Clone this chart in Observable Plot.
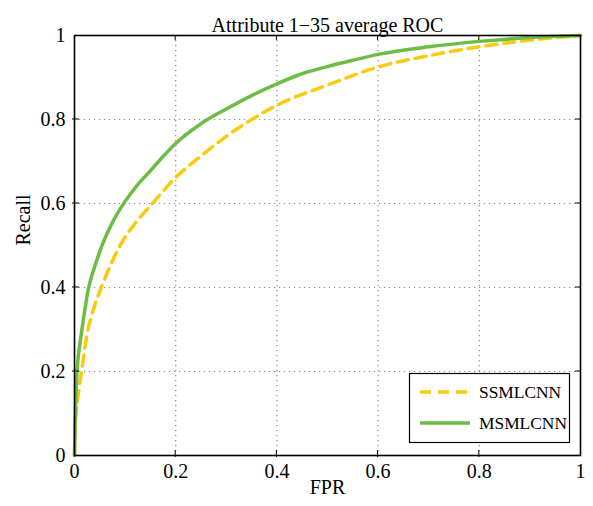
<!DOCTYPE html>
<html>
<head>
<meta charset="utf-8">
<script src="https://cdn.jsdelivr.net/npm/d3@7"></script>
<script src="https://cdn.jsdelivr.net/npm/@observablehq/plot@0.6"></script>
<style>
  html, body { margin: 0; padding: 0; background: #ffffff; }
  #chart svg { display: block; }
</style>
</head>
<body>
<div id="chart"></div>
<script>
const titleText = "Attribute 1\u221235 average ROC";
const xLabel = "FPR";
const yLabel = "Recall";
const tickValues = [0, 0.2, 0.4, 0.6, 0.8, 1];
const gridValues = [0.2, 0.4, 0.6, 0.8];
const seriesNames = ["SSMLCNN", "MSMLCNN"];

// SSMLCNN (yellow dashed)
const ssFpr =    [0, 0.001, 0.004, 0.009, 0.015, 0.025, 0.038, 0.053, 0.07, 0.091, 0.12, 0.154, 0.2, 0.25, 0.3, 0.35, 0.4, 0.5, 0.6, 0.7, 0.8, 0.9, 1];
const ssRecall = [0, 0.06, 0.11, 0.16, 0.21, 0.29, 0.35, 0.4, 0.45, 0.502, 0.553, 0.6, 0.662, 0.713, 0.76, 0.8, 0.834, 0.882, 0.925, 0.952, 0.973, 0.989, 1];

// MSMLCNN (green solid)
const msFpr =    [0, 0.001, 0.002, 0.005, 0.01, 0.015, 0.028, 0.04, 0.055, 0.075, 0.1, 0.125, 0.15, 0.175, 0.2, 0.25, 0.3, 0.35, 0.4, 0.45, 0.5, 0.55, 0.6, 0.7, 0.8, 0.9, 1];
const msRecall = [0, 0.06, 0.11, 0.2, 0.26, 0.303, 0.4, 0.45, 0.502, 0.555, 0.605, 0.645, 0.678, 0.712, 0.743, 0.79, 0.825, 0.857, 0.885, 0.909, 0.926, 0.941, 0.955, 0.973, 0.986, 0.995, 1];

const colors = {SSMLCNN: "#f8cb0e", MSMLCNN: "#6dbd45"};
const ss = ssFpr.map((f, i) => ({fpr: f, recall: ssRecall[i]}));
const ms = msFpr.map((f, i) => ({fpr: f, recall: msRecall[i]}));
const fmt = d => String(d);
const FONT = "'Liberation Serif', 'Times New Roman', serif";
const FS = 20;
const LFS = 17.4;

const plot = Plot.plot({
  width: 593,
  height: 506,
  marginLeft: 74,
  marginRight: 13,
  marginTop: 35,
  marginBottom: 51,
  style: {fontFamily: FONT, fontSize: FS + "px", color: "#000", background: "#fff"},
  x: {domain: [0, 1]},
  y: {domain: [0, 1]},
  marks: [
    Plot.gridX(gridValues, {stroke: "#8a8a8a", strokeOpacity: 1, strokeWidth: 1.2, strokeDasharray: "1.2,3.8"}),
    Plot.gridY(gridValues, {stroke: "#8a8a8a", strokeOpacity: 1, strokeWidth: 1.2, strokeDasharray: "1.2,3.8"}),
    Plot.line(ss, {x: "fpr", y: "recall", stroke: colors.SSMLCNN, strokeWidth: 3.5, strokeDasharray: "11,7", curve: "monotone-x"}),
    Plot.line(ms, {x: "fpr", y: "recall", stroke: colors.MSMLCNN, strokeWidth: 3.5, curve: "monotone-x"}),
    Plot.frame({stroke: "#000", strokeWidth: 1.6}),
    Plot.axisX(tickValues, {tickSize: 0, tickPadding: 8, tickFormat: fmt, label: null, fontSize: FS}),
    Plot.axisY(tickValues, {tickSize: 0, tickPadding: 9, tickFormat: fmt, label: null, fontSize: FS}),
    Plot.text([xLabel], {frameAnchor: "bottom", dy: 38, fontSize: FS}),
    Plot.text([yLabel], {frameAnchor: "left", dx: -51, rotate: -90, fontSize: FS}),
    Plot.text([titleText], {frameAnchor: "top", dy: -18, fontSize: FS})
  ]
});

document.getElementById("chart").appendChild(plot);

const svg = d3.select(plot);
const sx = plot.scale("x"), sy = plot.scale("y");
const x0 = sx.apply(0), x1 = sx.apply(1), y0 = sy.apply(0), y1 = sy.apply(1);

// small tick marks (mostly inward) on all four sides
const tg = svg.append("g").attr("stroke", "#000").attr("stroke-width", 1);
gridValues.forEach(v => {
  const px = sx.apply(v), py = sy.apply(v);
  tg.append("line").attr("x1", px).attr("x2", px).attr("y1", y0 + 2).attr("y2", y0 - 5);
  tg.append("line").attr("x1", px).attr("x2", px).attr("y1", y1).attr("y2", y1 + 5);
  tg.append("line").attr("y1", py).attr("y2", py).attr("x1", x0 - 2).attr("x2", x0 + 5);
  tg.append("line").attr("y1", py).attr("y2", py).attr("x1", x1).attr("x2", x1 - 5);
});

// Legend box (bottom-right, inside the plot)
const lg = svg.append("g").attr("font-family", FONT).attr("font-size", LFS).attr("text-anchor", "start");
lg.append("rect").attr("x", 409.5).attr("y", 373.5).attr("width", 160).attr("height", 69)
  .attr("fill", "#fff").attr("stroke", "#000").attr("stroke-width", 1.2);
const rows = [
  {name: seriesNames[0], dash: "11,7"},
  {name: seriesNames[1], dash: null}
];
rows.forEach((r, i) => {
  const yy = 392 + i * 31;
  lg.append("line").attr("x1", 420).attr("x2", 470).attr("y1", yy).attr("y2", yy)
    .attr("stroke", colors[r.name]).attr("stroke-width", 3.5).attr("stroke-dasharray", r.dash);
  lg.append("text").attr("x", 479).attr("y", yy).attr("dy", "0.35em").attr("text-anchor", "start").text(r.name);
});
</script>
</body>
</html>
